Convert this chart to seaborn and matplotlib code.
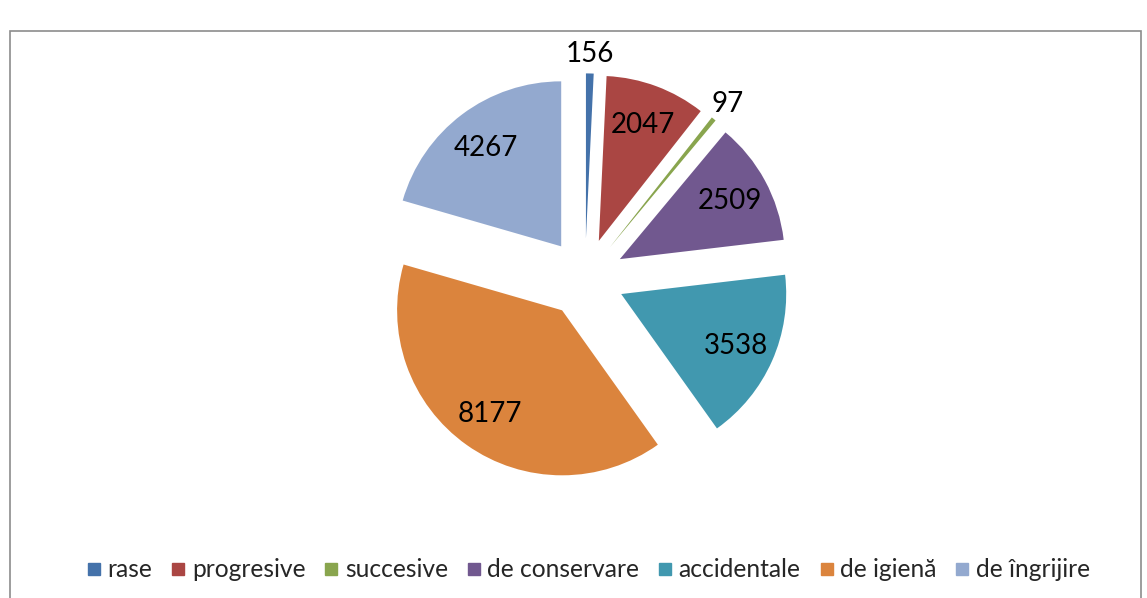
import numpy as np
import matplotlib.pyplot as plt
import seaborn as sns
from matplotlib.patches import Rectangle
from matplotlib.lines import Line2D

# Data
categorii = ['rase', 'progresive', 'succesive', 'de conservare',
             'accidentale', 'de igienă', 'de îngrijire']
valori = [156, 2047, 97, 2509, 3538, 8177, 4267]
culori = ['#4472AA', '#AA4643', '#89A54E', '#71588F', '#4198AF', '#DB843D', '#93A9CF']

sns.set_theme(style="white")
plt.rcParams['font.family'] = ['Lato', 'DejaVu Sans']

fig = plt.figure(figsize=(11.47, 5.98), dpi=100)

# chart area border
fig.patches.append(Rectangle((10 / 1147, -0.02), 1131 / 1147, 0.968,
                             transform=fig.transFigure, fill=False,
                             edgecolor='#8c8c8c', linewidth=1.2))

R = 165
lim = 1.4
side = 2 * lim * R
cx, cy = 585, 598 - 278
ax = fig.add_axes([(cx - side / 2) / 1147, (cy - side / 2) / 598, side / 1147, side / 598])

expl = 0.24
wedges, _ = ax.pie(valori, colors=culori, startangle=90, counterclock=False,
                   explode=[expl] * len(valori), radius=1.0,
                   wedgeprops=dict(linewidth=0))
ax.set_xlim(-lim, lim)
ax.set_ylim(-lim, lim)
ax.set_aspect('equal')
ax.axis('off')

# data labels
total = sum(valori)
cum = 0
for v in valori:
    mid = 90 - (cum + v / 2) / total * 360
    cum += v
    a = np.deg2rad(mid)
    d = 1.0 if v / total > 0.02 else 1.37
    ax.text(d * np.cos(a), d * np.sin(a) - 0.01, str(v), ha='center', va='center',
            fontsize=20, color='black')

handles = [Line2D([], [], marker='s', linestyle='', markersize=8.5,
                  markerfacecolor=c, markeredgecolor=c) for c in culori]
fig.legend(handles, categorii, loc='center', bbox_to_anchor=(0.513, 0.047),
           ncol=7, frameon=False, fontsize=17.7, handlelength=0.6,
           handletextpad=0.25, columnspacing=0.75)

fig.savefig('out.png', dpi=100)
